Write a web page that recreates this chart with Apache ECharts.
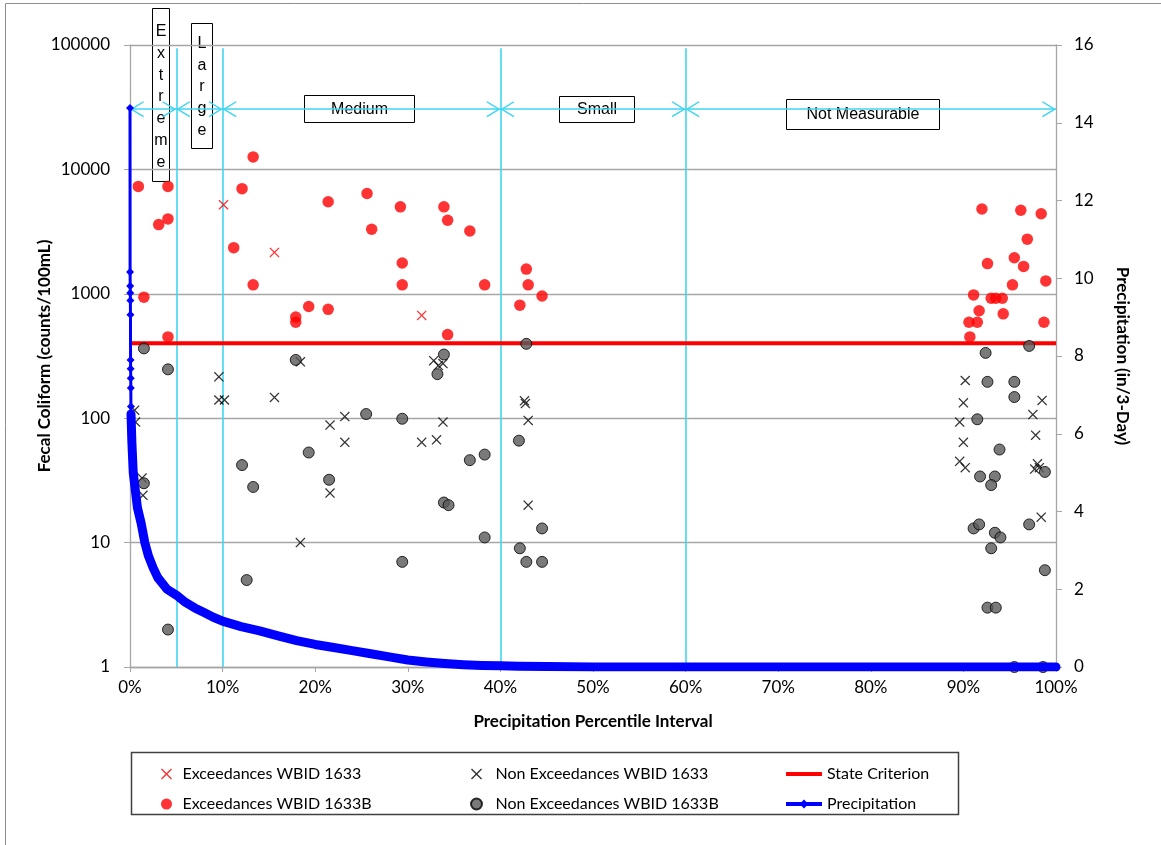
<!DOCTYPE html>
<html>
<head>
<meta charset="utf-8">
<script src="https://cdn.jsdelivr.net/npm/echarts@6/dist/echarts.min.js"></script>
<style>
  html, body { margin: 0; padding: 0; background: #ffffff; }
  #chart { width: 1161px; height: 845px; }
</style>
</head>
<body>
<div id="chart"></div>
<script>
// Fecal coliform samples, placed by the precipitation percentile of their sampling day.
// *Pct = precipitation percentile (%), *Val = fecal coliform (counts/100mL)
const exc1633Pct = [10.1, 15.6, 31.5];
const exc1633Val = [5200, 2150, 670];

const nonExc1633Pct = [0.5, 0.6, 1.3, 1.4, 9.6, 9.6, 10.2, 15.6, 18.4, 21.6, 21.6, 23.2, 23.2, 18.4,
  31.5, 33.1, 33.8, 32.8, 33.3, 33.8, 42.6, 42.7, 43.0, 43.0,
  90.2, 90.0, 89.6, 90.0, 89.6, 90.2, 98.5, 97.5, 97.8, 98.0, 97.7, 98.2, 98.4];
const nonExc1633Val = [116, 93, 33, 24, 215, 140, 140, 147, 284, 88, 25, 103, 64, 10,
  64, 67, 93, 290, 265, 275, 138, 131, 96, 20,
  201, 133, 93, 64, 45, 40, 139, 107, 73, 43, 39, 40, 16];

const exc1633BPct = [0.9, 4.1, 3.1, 4.1, 13.3, 12.1, 11.2, 13.3, 1.5, 4.1, 17.9, 17.9, 19.3, 21.4, 21.4,
  25.6, 26.1, 29.2, 29.4, 29.4, 33.9, 34.3, 34.3, 36.7, 38.3, 42.8, 43.0, 44.5, 42.1,
  92.0, 96.2, 98.4, 96.9, 92.6, 95.5, 96.5, 98.9, 95.3, 91.1, 93.0, 93.5, 94.2, 91.7, 94.3,
  90.6, 91.5, 98.7, 90.7];
const exc1633BVal = [7300, 7300, 3600, 4000, 12600, 7000, 2350, 1180, 940, 450, 650, 590, 790, 750, 5500,
  6400, 3300, 5000, 1770, 1180, 5000, 3900, 470, 3200, 1180, 1580, 1180, 960, 810,
  4800, 4700, 4400, 2750, 1750, 1950, 1660, 1270, 1180, 980, 920, 920, 920, 730, 690,
  590, 590, 590, 450];

const nonExc1633BPct = [1.5, 4.1, 1.5, 4.1, 12.1, 13.3, 12.6, 17.9, 19.3, 21.5, 25.5, 29.4, 29.4,
  33.9, 33.2, 33.9, 34.4, 36.7, 38.3, 38.3, 42.0, 42.8, 44.5, 42.1, 42.8, 44.5,
  97.1, 92.4, 92.6, 95.5, 95.5, 91.5, 93.9, 91.8, 93.4, 93.0, 98.8, 91.1, 91.7, 93.4,
  94.0, 93.0, 97.1, 98.8, 92.6, 93.5, 95.5, 98.6];
const nonExc1633BVal = [364, 247, 30, 2, 42, 28, 5, 294, 53, 32, 108, 99, 7,
  325, 226, 21, 20, 46, 51, 11, 66, 396, 13, 9, 7, 7,
  381, 335, 196, 196, 148, 98, 56, 34, 34, 29, 37, 13, 14, 12,
  11, 9, 14, 6, 3, 3, 1, 1];

// Ranked 3-day precipitation totals (in) against their percentile (%)
const precipPct = [0, 0.01, 0.02, 0.03, 0.04, 0.05, 0.06, 0.07, 0.08, 0.09, 0.10, 0.11,
  0.2, 0.35, 0.55, 0.8, 1.2, 1.6, 2, 2.5, 3, 4, 5, 6, 7, 8, 9, 10,
  12, 14, 16, 18, 20, 22, 24, 26, 28, 30, 32, 34, 36, 38, 40, 42, 45,
  50, 55, 60, 65, 70, 75, 80, 85, 90, 95, 100];
const precipIn = [14.38, 10.16, 9.80, 9.62, 9.43, 9.06, 7.90, 7.67, 7.43, 7.18, 6.70, 6.51,
  5.8, 5.0, 4.6, 4.1, 3.7, 3.2, 2.85, 2.55, 2.3, 2.0, 1.85, 1.66, 1.52, 1.40, 1.28, 1.18,
  1.04, 0.93, 0.80, 0.68, 0.58, 0.50, 0.42, 0.34, 0.26, 0.18, 0.13, 0.09, 0.06, 0.04, 0.03, 0.02, 0.01,
  0, 0, 0, 0, 0, 0, 0, 0, 0, 0, 0];
// From this rank on, the daily values are dense enough to merge into a solid band
const precipBandStart = 11;

// Fecal coliform single-sample criterion (counts/100mL)
const stateCriterion = 400;

// Flow regime class breaks (precipitation percentile, %) and their names
const regimeBreaks = [0, 5, 10, 40, 60, 100];
const regimeNames = ['Extreme', 'Large', 'Medium', 'Small', 'Not Measurable'];

// Tick labels
const xTicks = [0, 10, 20, 30, 40, 50, 60, 70, 80, 90, 100];
const precipTicks = [0, 2, 4, 6, 8, 10, 12, 14, 16];

// ---------------------------------------------------------------------------
const pairs = (xs, ys) => xs.map((x, i) => [x, ys[i]]);
const precipData = pairs(precipPct, precipIn);

const FONT = 'Lato';
const GRID_GRAY = '#a6a6a6';
const CYAN = '#3fd6f2';
const regimeArrowLevel = 30500;   // height of the regime arrows on the coliform axis
const regimeLineTop = 94000;      // top end of the regime break lines

// Thin cross drawn as a filled outline so it scales cleanly
const CROSS = 'path://M0,9 L9,0 L50,41 L91,0 L100,9 L59,50 L100,91 L91,100 L50,59 L9,100 L0,91 L41,50 Z';
// Open arrow head, tip at the centre of its box so it meets the break line
const CHEVRON = 'path://M50,100 L100,186 L93,192 L50,118 L7,192 L0,186 Z M50,8 L50.6,8 L50.3,8.6 Z';

const regimeLines = [];
regimeBreaks.slice(1, -1).forEach(b => {
  regimeLines.push([
    { coord: [b, 1], symbol: 'none' },
    { coord: [b, regimeLineTop], symbol: 'none' }
  ]);
});
for (let i = 0; i < regimeBreaks.length - 1; i++) {
  regimeLines.push([
    { coord: [regimeBreaks[i], regimeArrowLevel] },
    { coord: [regimeBreaks[i + 1], regimeArrowLevel] }
  ]);
}

const legendText = { fontFamily: FONT, fontSize: 16, lineHeight: 16, color: '#000' };

// Boxed regime names drawn over the arrows
function regimeBox(x, y, w, h, text, cx, cy, lineHeight) {
  return {
    type: 'group', z: 20, silent: true,
    children: [
      { type: 'rect', shape: { x: x, y: y, width: w, height: h },
        style: { fill: '#ffffff', stroke: '#000000', lineWidth: 1 } },
      { type: 'text', x: cx, y: cy,
        style: { text: text, fontFamily: 'Liberation Sans', fontSize: 16, fill: '#000',
                 align: 'center', verticalAlign: 'middle', lineHeight: lineHeight || 18 } }
    ]
  };
}

const chart = echarts.init(document.getElementById('chart'), null, { renderer: 'canvas' });

chart.setOption({
  animation: false,
  backgroundColor: '#ffffff',
  grid: { left: 130, right: 105, top: 45, bottom: 178, containLabel: false },
  xAxis: {
    type: 'value', min: 0, max: 100, interval: 10,
    name: 'Precipitation Percentile Interval',
    nameLocation: 'middle', nameGap: 46,
    nameTextStyle: { fontFamily: FONT, fontSize: 17, fontWeight: 'bold', color: '#000' },
    axisLine: { onZero: false, lineStyle: { color: GRID_GRAY, width: 1.3 } },
    axisTick: { show: true, length: 5, lineStyle: { color: GRID_GRAY } },
    axisLabel: { fontFamily: FONT, fontSize: 17, color: '#000', margin: 12,
                 formatter: v => xTicks.includes(v) ? v + '%' : '' },
    splitLine: { show: false }
  },
  yAxis: [
    {
      type: 'log', logBase: 10, min: 1, max: 100000,
      name: 'Fecal Coliform (counts/100mL)',
      nameLocation: 'middle', nameGap: 77, nameRotate: 90, nameMoveOverlap: false,
      nameTextStyle: { fontFamily: FONT, fontSize: 17, fontWeight: 'bold', color: '#000' },
      axisLine: { show: true, lineStyle: { color: GRID_GRAY, width: 1.3 } },
      axisTick: { show: true, length: 6, lineStyle: { color: GRID_GRAY } },
      axisLabel: { fontFamily: FONT, fontSize: 17, color: '#000', margin: 20,
                   formatter: v => String(Math.round(v)) },
      splitLine: { show: true, lineStyle: { color: GRID_GRAY, width: 1.3 } }
    },
    {
      type: 'value', min: 0, max: 16, interval: 2, position: 'right',
      name: 'Precipitation (in/3-Day)',
      nameLocation: 'middle', nameGap: 58, nameRotate: -90, nameMoveOverlap: false,
      nameTextStyle: { fontFamily: FONT, fontSize: 17, fontWeight: 'bold', color: '#000' },
      axisLine: { show: true, lineStyle: { color: GRID_GRAY, width: 1.3 } },
      axisTick: { show: true, length: 6, lineStyle: { color: GRID_GRAY } },
      axisLabel: { fontFamily: FONT, fontSize: 17, color: '#000', margin: 18,
                   formatter: v => precipTicks.includes(v) ? String(v) : '' },
      splitLine: { show: false }
    }
  ],
  legend: [
    { data: ['Exceedances WBID 1633', 'Exceedances WBID 1633B'],
      orient: 'vertical', left: 156, top: 761, itemWidth: 22, itemHeight: 11, itemGap: 14,
      selectedMode: false, textStyle: legendText },
    { data: ['Non Exceedances WBID 1633', 'Non Exceedances WBID 1633B'],
      orient: 'vertical', left: 465, top: 761, itemWidth: 28, itemHeight: 11, itemGap: 14,
      selectedMode: false, textStyle: legendText },
    { data: [{ name: 'State Criterion', itemStyle: { opacity: 0 } }, 'Precipitation'],
      orient: 'vertical', left: 779, top: 761, itemWidth: 36, itemHeight: 11, itemGap: 14,
      lineStyle: { width: 4 },
      selectedMode: false, textStyle: legendText }
  ],
  series: [
    {
      name: 'Flow Regimes', type: 'line', data: [], z: 1, silent: true,
      markLine: {
        silent: true, z: 1,
        symbol: [CHEVRON, CHEVRON], symbolSize: [16, 28],
        label: { show: false },
        emphasis: { disabled: true },
        lineStyle: { color: CYAN, width: 1.6, type: 'solid' },
        data: regimeLines
      }
    },
    {
      name: 'State Criterion', type: 'line', z: 2, silent: true,
      data: [[0, stateCriterion], [100, stateCriterion]],
      showSymbol: false, symbol: 'none',
      lineStyle: { color: '#ff0000', width: 4 },
      itemStyle: { color: '#ff0000' }
    },
    {
      name: 'Exceedances WBID 1633', type: 'scatter', z: 3,
      data: pairs(exc1633Pct, exc1633Val),
      symbol: CROSS, symbolSize: 10,
      itemStyle: { color: '#ff0000' }
    },
    {
      name: 'Non Exceedances WBID 1633', type: 'scatter', z: 3,
      data: pairs(nonExc1633Pct, nonExc1633Val),
      symbol: CROSS, symbolSize: 10,
      itemStyle: { color: '#000000' }
    },
    {
      name: 'Exceedances WBID 1633B', type: 'scatter', z: 3,
      data: pairs(exc1633BPct, exc1633BVal),
      symbol: 'circle', symbolSize: 11.5,
      itemStyle: { color: '#ff0000' }
    },
    {
      name: 'Non Exceedances WBID 1633B', type: 'scatter', z: 3,
      data: pairs(nonExc1633BPct, nonExc1633BVal),
      symbol: 'circle', symbolSize: 11,
      itemStyle: { color: '#595959', borderColor: '#000000', borderWidth: 1 }
    },
    {
      name: 'Precipitation', type: 'line', yAxisIndex: 1, z: 4,
      data: precipData,
      symbol: 'diamond', symbolSize: 8, showSymbol: true, showAllSymbol: true,
      lineStyle: { color: '#0000ff', width: 3 },
      itemStyle: { color: '#0000ff' }
    },
    {
      name: 'Precipitation', type: 'line', yAxisIndex: 1, z: 4,
      data: precipData.slice(precipBandStart),
      showSymbol: false, symbol: 'none',
      lineStyle: { color: '#0000ff', width: 9, join: 'round', cap: 'round' },
      itemStyle: { color: '#0000ff' }
    }
  ],
  graphic: [
    { type: 'rect', silent: true, z: -10,
      shape: { x: 5.5, y: 3.5, width: 1400, height: 1000 },
      style: { fill: 'none', stroke: '#8c8c8c', lineWidth: 1 } },
    { type: 'rect', silent: true, z: 5,
      shape: { x: 131.5, y: 752.5, width: 827, height: 62 },
      style: { fill: 'none', stroke: '#404040', lineWidth: 1.5 } },
    regimeBox(152.5, 8.5, 17, 173, regimeNames[0].split('').join('\n'), 161, 97, 21.7),
    regimeBox(191.5, 23.5, 21, 125, regimeNames[1].split('').join('\n'), 202, 87, 21.7),
    regimeBox(304.5, 95.5, 110, 27, regimeNames[2], 359.5, 109.5),
    regimeBox(559.5, 96.5, 75, 26, regimeNames[3], 597, 110),
    regimeBox(786.5, 99.5, 153, 30, regimeNames[4], 863, 115)
  ]
});
</script>
</body>
</html>
